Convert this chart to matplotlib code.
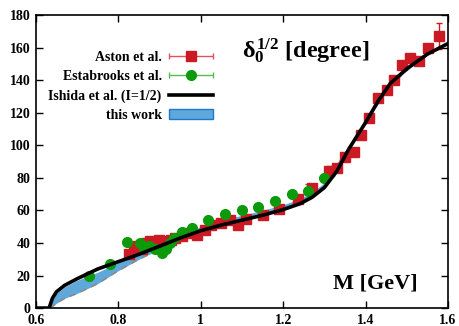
import numpy as np
import matplotlib
matplotlib.use('Agg')
import matplotlib.pyplot as plt
import matplotlib.patches as mpatches
from matplotlib.legend_handler import HandlerErrorbar

plt.rcParams['font.family'] = 'Liberation Serif'
plt.rcParams['font.weight'] = 'bold'
plt.rcParams['mathtext.fontset'] = 'custom'
plt.rcParams['mathtext.rm'] = 'Liberation Serif:bold'
plt.rcParams['mathtext.it'] = 'Liberation Serif:bold'
plt.rcParams['mathtext.bf'] = 'Liberation Serif:bold'

##---------------- data ----------------
# Aston et al. (red squares)
aston_m = [0.825, 0.838, 0.848, 0.858, 0.868, 0.878, 0.888, 0.898, 0.908, 0.918,
           0.928, 0.938, 0.955, 0.975, 0.99, 1.01, 1.025, 1.05, 1.07, 1.09,
           1.11, 1.15, 1.19, 1.235, 1.27, 1.31, 1.33, 1.35, 1.372, 1.39,
           1.408, 1.43, 1.452, 1.469, 1.488, 1.508, 1.53, 1.551, 1.577]
aston_d = [33, 36, 38, 36, 40, 41, 39, 42, 38, 41,
           42, 43, 44, 46, 45, 48, 51, 52, 54, 51,
           55, 57, 61, 67, 74, 84, 86, 93, 96, 106,
           117, 129, 134, 140, 149, 153.5, 152, 160, 167]
aston_e = [1, 1, 1, 1, 1, 1, 1, 1, 1, 1,
           1, 1, 1, 1, 1, 1, 1, 1, 1, 1,
           1, 1, 1, 1.5, 1.5, 3, 1.5, 1.5, 1.5, 1.5,
           1.5, 1.5, 1.5, 1.5, 1.5, 1.5, 1.5, 1.5, 8]

# Estabrooks et al. (green circles)
estab_m = [0.73, 0.78, 0.82, 0.852, 0.862, 0.875, 0.89, 0.905, 0.915, 0.925,
           0.935, 0.954, 0.979, 1.017, 1.059, 1.1, 1.139, 1.18, 1.221, 1.26, 1.299]
estab_d = [20, 27, 40.5, 40, 37, 38, 36, 34, 36, 40,
           43, 47, 49, 54, 58, 60, 62, 66, 70, 72, 80]
estab_e = [1, 1, 1, 1, 1, 1, 1, 1, 1, 1,
           1, 1, 1, 1, 1, 1, 1, 1, 1, 4.5, 1]

# Ishida et al. (I=1/2) curve
ishida_m = [0.6, 0.632, 0.64, 0.65, 0.67, 0.7, 0.75, 0.8, 0.85, 0.9, 0.95, 1.0,
            1.05, 1.1, 1.15, 1.2, 1.24, 1.27, 1.3, 1.33, 1.36, 1.4, 1.43, 1.46,
            1.5, 1.55, 1.6]
ishida_d = [0, 0, 6, 10, 14, 18, 24, 28.5, 33, 38, 43, 47.5,
            51, 54, 57, 60.5, 64, 68, 74, 84, 98, 114, 127, 138,
            147, 156, 162.5]

# this work (band)
band_m = [0.633, 0.64, 0.65, 0.67, 0.7, 0.75, 0.8, 0.85, 0.9, 0.95, 1.0, 1.05,
          1.1, 1.15, 1.2, 1.24, 1.27, 1.3, 1.35, 1.4, 1.45, 1.5, 1.55, 1.6]
band_lo = [0, 1, 3, 6, 9, 15, 23, 30, 36, 42, 47.5, 51.5,
           54.5, 57.5, 61, 64.5, 68.5, 75, 95, 113, 134, 146, 155.5, 162]
band_hi = [0, 5, 9, 13, 17, 22, 28, 34, 39.5, 45, 50, 54,
           57, 60, 63.5, 67, 71, 77, 96.5, 114.5, 135.5, 147.5, 157, 163.5]

red = '#cc1a24'
green = '#0a9a0a'
bandcol = '#5ea8dc'

fig = plt.figure(figsize=(4.6, 3.26), dpi=100)
ax = fig.add_axes([0.078, 0.055, 0.896, 0.899])

ax.fill_between(band_m, band_lo, band_hi, color=bandcol, lw=0, zorder=2)
ax.plot(band_m, band_lo, color='#8a8a8a', lw=1.2, ls=(0, (4, 3)), zorder=2)

ax.errorbar(aston_m, aston_d, yerr=aston_e, fmt='s', color=red, ms=6.8,
            elinewidth=1, capsize=2, zorder=3)
ax.errorbar(estab_m, estab_d, yerr=estab_e, fmt='o', color=green, ms=7,
            elinewidth=1, capsize=2, zorder=3)
ax.plot(ishida_m, ishida_d, color='k', lw=2.6, zorder=4)

# legend handles (drawn off-screen, only used for the legend)
h1 = ax.errorbar([-5], [-5], xerr=[1], fmt='s', color=red, ecolor='#e05060',
                 ms=6.5, elinewidth=1, capsize=2)
h2 = ax.errorbar([-5], [-5], xerr=[1], fmt='o', color=green, ecolor='#50c050',
                 ms=7, elinewidth=1, capsize=2)
h3, = ax.plot([], [], color='k', lw=2.6)
h4 = mpatches.Patch(facecolor=bandcol, edgecolor='#1f78c8', lw=1)
ax.legend([h1, h2, h3, h4],
          ['Aston et al.', 'Estabrooks et al.', 'Ishida et al. (I=1/2)', 'this work'],
          loc='upper left', bbox_to_anchor=(0.0, 0.92), frameon=False,
          markerfirst=False, fontsize=10, handlelength=3.2, labelspacing=0.45,
          handletextpad=0.5,
          handler_map={type(h1): HandlerErrorbar(xerr_size=1.6)})

ax.text(0.5, 0.875, r'$\delta_0^{1/2}$ [degree]', transform=ax.transAxes,
        ha='left', va='center', fontsize=17.5, fontweight='bold')
ax.text(0.72, 0.085, 'M [GeV]', transform=ax.transAxes,
        ha='left', va='center', fontsize=16, fontweight='bold')

ax.set_xlim(0.6, 1.6)
ax.set_ylim(0, 180)
ax.set_xticks(np.arange(0.6, 1.61, 0.2))
ax.set_xticklabels(['0.6', '0.8', '1', '1.2', '1.4', '1.6'])
ax.set_yticks(np.arange(0, 181, 20))
ax.tick_params(direction='in', top=True, right=True, length=5, width=1,
               labelsize=10, pad=4)
for sp in ax.spines.values():
    sp.set_linewidth(1.2)

plt.savefig('out.png', dpi=100)
